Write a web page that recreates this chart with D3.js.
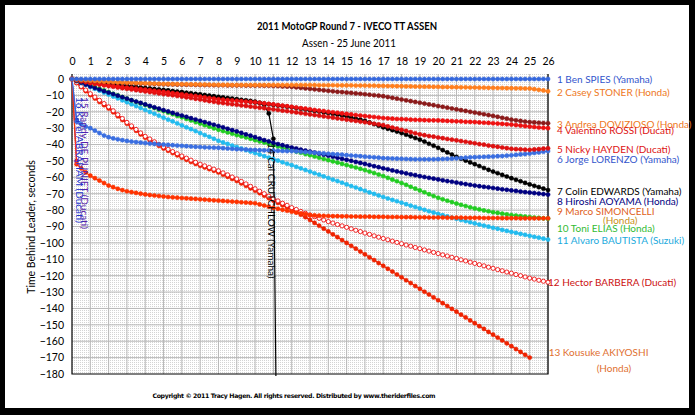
<!DOCTYPE html>
<html>
<head>
<meta charset="utf-8">
<script src="https://cdn.jsdelivr.net/npm/d3@7/dist/d3.min.js"></script>
<style>
  body { margin: 0; background: #000; }
  svg text { font-family: Lato, "Open Sans", sans-serif; }
</style>
</head>
<body>
<svg id="chart" width="695" height="415"></svg>
<script>
// lap numbers on the top axis, seconds on the left axis
const laps = [0,1,2,3,4,5,6,7,8,9,10,11,12,13,14,15,16,17,18,19,20,21,22,23,24,25,26];
const yTicks = [0,-10,-20,-30,-40,-50,-60,-70,-80,-90,-100,-110,-120,-130,-140,-150,-160,-170,-180];

// gap to the leader at every timing sector (4 per lap), one row per lap
const spies = [
  0,0,0,0, 0,0,0,0, 0,0,0,0, 0,0,0,0, 0,0,0,0, 0,0,0,0, 0,0,0,0, 0,0,0,0, 0,0,0,0,
  0,0,0,0, 0,0,0,0, 0,0,0,0, 0,0,0,0, 0,0,0,0, 0,0,0,0, 0,0,0,0, 0,0,0,0, 0,0,0,0,
  0,0,0,0, 0,0,0,0, 0,0,0,0, 0,0,0,0, 0,0,0,0, 0,0,0,0, 0,0,0,0, 0,0,0,0, 0];
const stoner = [
  0,-0.3,-0.6,-0.8, -1,-1.2,-1.4,-1.6, -1.7,-1.8,-2,-2.1, -2.2,-2.3,-2.4,-2.5,
  -2.6,-2.7,-2.8,-2.9, -3,-3,-3.1,-3.1, -3.2,-3.2,-3.3,-3.3, -3.4,-3.4,-3.5,-3.5,
  -3.6,-3.6,-3.6,-3.7, -3.7,-3.7,-3.7,-3.7, -3.7,-3.7,-3.7,-3.7, -3.7,-3.7,-3.7,-3.7,
  -3.7,-3.7,-3.7,-3.7, -3.7,-3.7,-3.8,-3.8, -3.8,-3.8,-3.9,-3.9, -3.9,-3.9,-4,-4,
  -4,-4.1,-4.1,-4.2, -4.2,-4.3,-4.3,-4.4, -4.4,-4.5,-4.5,-4.6, -4.6,-4.7,-4.7,-4.8,
  -4.8,-4.9,-4.9,-5, -5,-5.1,-5.1,-5.2, -5.2,-5.3,-5.3,-5.4, -5.4,-5.5,-5.5,-5.6,
  -5.6,-5.7,-5.7,-5.8, -5.8,-6.2,-6.6,-7, -7.5];
const dovizioso = [
  0,-0.4,-0.7,-1, -1.2,-1.4,-1.6,-1.8, -1.9,-2,-2.2,-2.3, -2.4,-2.5,-2.6,-2.7,
  -2.8,-2.9,-3,-3.1, -3.2,-3.3,-3.3,-3.4, -3.4,-3.5,-3.5,-3.6, -3.6,-3.7,-3.7,-3.8,
  -3.8,-3.8,-3.9,-3.9, -3.9,-3.9,-4,-4, -4,-4,-4.1,-4.1, -4.2,-4.3,-4.5,-4.6,
  -4.8,-5.1,-5.4,-5.7, -6,-6.3,-6.6,-6.9, -7.2,-7.5,-7.8,-8, -8.3,-8.5,-8.8,-9,
  -9.3,-9.6,-9.9,-10.2, -10.5,-11,-11.5,-12, -12.5,-13,-13.5,-14, -14.5,-15,-15.5,-16,
  -16.5,-17,-17.5,-18, -18.5,-19,-19.5,-20, -20.5,-21,-21.5,-22, -22.5,-23.1,-23.7,-24.2,
  -24.8,-25.2,-25.6,-26, -26.3,-26.5,-26.7,-26.9, -27];
const rossi = [
  0,-0.6,-1.2,-1.7, -2.2,-2.6,-3,-3.4, -3.8,-4.2,-4.5,-4.9, -5.2,-5.5,-5.9,-6.2,
  -6.5,-6.8,-7.2,-7.5, -7.8,-8.2,-8.6,-8.9, -9.3,-9.7,-10.1,-10.4, -10.8,-11.2,-11.6,-12,
  -12.4,-12.6,-12.9,-13.1, -13.3,-13.5,-13.8,-14, -14.2,-14.5,-14.9,-15.2, -15.5,-15.9,-16.3,-16.6,
  -17,-17.4,-17.8,-18.1, -18.5,-18.9,-19.3,-19.6, -20,-20.3,-20.6,-21, -21.3,-21.6,-22,-22.3,
  -22.6,-22.9,-23.2,-23.5, -23.8,-24,-24.2,-24.4, -24.5,-24.6,-24.8,-24.9, -25,-25.1,-25.2,-25.2,
  -25.3,-25.4,-25.6,-25.7, -25.8,-25.9,-26.1,-26.2, -26.3,-26.5,-26.7,-26.8, -27,-27.2,-27.4,-27.6,
  -27.8,-28.1,-28.4,-28.7, -29,-29.3,-29.6,-29.8, -30];
const hayden = [
  0,-0.7,-1.3,-1.9, -2.5,-3,-3.4,-3.9, -4.3,-4.7,-5.2,-5.6, -6,-6.4,-6.8,-7.2,
  -7.6,-8,-8.4,-8.8, -9.2,-9.6,-9.9,-10.3, -10.7,-11.2,-11.6,-12.1, -12.5,-13,-13.5,-13.9,
  -14.4,-14.7,-15.1,-15.4, -15.7,-16.1,-16.4,-16.8, -17.1,-17.5,-17.8,-18.2, -18.5,-18.9,-19.3,-19.6,
  -20,-20.4,-20.8,-21.2, -21.6,-22,-22.4,-22.8, -23.2,-23.6,-24,-24.4, -24.8,-25.2,-25.6,-26,
  -26.4,-26.8,-27.3,-27.7, -28.2,-28.9,-29.6,-30.3, -31,-31.7,-32.4,-33.1, -33.8,-34.3,-34.8,-35.2,
  -35.7,-36.1,-36.6,-37, -37.4,-37.9,-38.3,-38.8, -39.2,-39.7,-40.1,-40.6, -41,-41.4,-41.8,-42.2,
  -42.6,-42.8,-42.9,-43.1, -43.2,-43,-42.8,-42.5, -42.3];
const lorenzo = [
  0,-26,-27.5,-29, -30,-31.5,-33,-34.5, -35.5,-36.2,-36.8,-37.3, -37.8,-38.2,-38.5,-38.8,
  -39.1,-39.4,-39.6,-39.8, -40,-40.2,-40.4,-40.6, -40.8,-41,-41.2,-41.4, -41.5,-41.7,-41.8,-41.9,
  -42,-42.2,-42.4,-42.6, -42.8,-42.9,-43,-43.2, -43.3,-43.4,-43.5,-43.6, -43.7,-43.8,-43.9,-44,
  -44,-44.2,-44.4,-44.6, -44.8,-45,-45.2,-45.4, -45.6,-45.8,-46,-46.2, -46.5,-46.7,-46.9,-47.1,
  -47.4,-47.6,-47.8,-48, -48.3,-48.4,-48.5,-48.6, -48.7,-48.8,-48.9,-49, -49,-49,-49,-49,
  -48.9,-48.8,-48.7,-48.6, -48.4,-48.2,-48,-47.8, -47.7,-47.6,-47.5,-47.4, -47.3,-47.1,-47,-46.8,
  -46.6,-46.3,-46,-45.8, -45.5,-45.1,-44.8,-44.4, -44];
const edwards = [
  0,-0.5,-0.9,-1.4, -1.8,-2.2,-2.5,-2.9, -3.2,-3.5,-3.9,-4.2, -4.5,-4.8,-5.2,-5.5,
  -5.8,-6.1,-6.4,-6.7, -7,-7.3,-7.7,-8, -8.3,-8.7,-9,-9.4, -9.8,-10.2,-10.6,-11,
  -11.4,-11.8,-12.1,-12.5, -12.8,-13.2,-13.6,-13.9, -14.3,-14.7,-15,-15.4, -15.8,-16.2,-16.5,-16.9,
  -17.3,-17.7,-18.2,-18.6, -19,-19.5,-19.9,-20.4, -20.8,-21.3,-21.8,-22.3, -22.8,-23.5,-24.2,-24.8,
  -25.5,-26.5,-27.5,-28.5, -29.5,-30.4,-31.2,-32.1, -33,-34,-35,-36, -37,-38.2,-39.5,-40.7,
  -42,-43.4,-44.8,-46.1, -47.5,-48.6,-49.8,-50.9, -52,-53.1,-54.3,-55.4, -56.5,-57.5,-58.5,-59.5,
  -60.5,-61.5,-62.4,-63.4, -64.3,-65.2,-66,-66.9, -67.8];
const aoyama = [
  0,-1.1,-2.3,-3.4, -4.5,-5.5,-6.4,-7.4, -8.3,-9.2,-10.2,-11.1, -12,-12.9,-13.8,-14.6,
  -15.5,-16.4,-17.3,-18.1, -19,-19.8,-20.7,-21.5, -22.3,-23.1,-23.9,-24.7, -25.5,-26.3,-27.1,-27.9,
  -28.7,-29.5,-30.4,-31.2, -32,-32.9,-33.8,-34.6, -35.5,-36.4,-37.3,-38.1, -39,-39.7,-40.4,-41.1,
  -41.8,-42.4,-43.1,-43.7, -44.3,-44.9,-45.6,-46.2, -46.8,-47.4,-48.1,-48.7, -49.3,-49.9,-50.6,-51.2,
  -51.8,-52.5,-53.2,-53.8, -54.5,-55.1,-55.8,-56.4, -57,-57.6,-58.2,-58.7, -59.3,-59.8,-60.3,-60.8,
  -61.3,-61.8,-62.3,-62.7, -63.2,-63.7,-64.1,-64.6, -65,-65.4,-65.8,-66.1, -66.5,-66.9,-67.3,-67.6,
  -68,-68.3,-68.7,-69, -69.3,-69.6,-69.9,-70.2, -70.5];
const simoncelli = [
  0,-52,-54.5,-57, -59,-60.5,-62,-63.5, -65,-66,-67,-67.8, -68.5,-69,-69.5,-70,
  -70.4,-70.8,-71.1,-71.4, -71.7,-72,-72.2,-72.4, -72.6,-72.8,-73,-73.2, -73.4,-73.6,-73.8,-74,
  -74.2,-74.4,-74.6,-74.8, -75,-75.2,-75.4,-75.6, -75.8,-76.5,-77.2,-77.9, -78.6,-79.2,-79.8,-80.4,
  -81,-81.5,-82,-82.5, -83,-83.2,-83.4,-83.5, -83.6,-83.7,-83.7,-83.8, -83.8,-83.9,-83.9,-84,
  -84,-84,-84.1,-84.1, -84.1,-84.2,-84.2,-84.2, -84.3,-84.3,-84.3,-84.4, -84.4,-84.4,-84.5,-84.5,
  -84.5,-84.5,-84.6,-84.6, -84.6,-84.6,-84.7,-84.7, -84.7,-84.7,-84.8,-84.8, -84.8,-84.8,-84.9,-84.9,
  -84.9,-84.9,-85,-85, -85,-85,-85,-85, -85];
const elias = [
  0,-1,-2,-3, -4,-5,-6,-7, -8,-9,-10,-11, -12,-13,-13.9,-14.9,
  -15.8,-16.8,-17.7,-18.7, -19.6,-20.6,-21.5,-22.5, -23.4,-24.4,-25.3,-26.3, -27.2,-28.2,-29.1,-30.1,
  -31,-31.8,-32.6,-33.4, -34.2,-35,-35.7,-36.5, -37.3,-38.1,-38.8,-39.6, -40.4,-41.2,-41.9,-42.7,
  -43.5,-44.3,-45,-45.8, -46.5,-47.3,-48,-48.8, -49.5,-50.3,-51,-51.8, -52.5,-53.3,-54,-54.8,
  -55.6,-56.5,-57.4,-58.3, -59.2,-60.3,-61.4,-62.4, -63.5,-64.6,-65.8,-66.9, -68,-69.1,-70.3,-71.4,
  -72.5,-73.4,-74.3,-75.1, -76,-76.8,-77.5,-78.3, -79,-79.6,-80.2,-80.7, -81.3,-81.7,-82.2,-82.6,
  -83,-83.3,-83.6,-83.9, -84.2,-84.5,-84.7,-85, -85.2];
const bautista = [
  0,-1.2,-2.4,-3.6, -4.8,-6,-7.1,-8.3, -9.5,-10.7,-11.8,-13, -14.2,-15.4,-16.5,-17.7,
  -18.9,-20.1,-21.2,-22.4, -23.6,-24.8,-25.9,-27.1, -28.3,-29.5,-30.6,-31.8, -33,-34.2,-35.3,-36.5,
  -37.7,-38.7,-39.6,-40.6, -41.5,-42.4,-43.4,-44.3, -45.2,-46.1,-47.1,-48, -48.9,-49.8,-50.8,-51.7,
  -52.6,-53.6,-54.5,-55.5, -56.5,-57.5,-58.4,-59.4, -60.4,-61.4,-62.3,-63.3, -64.3,-65.3,-66.2,-67.2,
  -68.2,-69.2,-70.1,-71.1, -72,-72.9,-73.8,-74.6, -75.5,-76.4,-77.3,-78.1, -79,-79.8,-80.7,-81.5,
  -82.3,-83.1,-83.8,-84.6, -85.3,-86,-86.7,-87.4, -88.1,-88.8,-89.5,-90.1, -90.8,-91.4,-92.1,-92.7,
  -93.3,-93.9,-94.5,-95.1, -95.7,-96.3,-96.8,-97.4, -98];
const barbera = [
  0,-2.2,-4.5,-6.7, -9,-11,-13,-15, -17,-19.4,-21.8,-24.1, -26.5,-28.6,-30.8,-32.9,
  -35,-36.6,-38.3,-39.9, -41.5,-42.9,-44.3,-45.6, -47,-48.3,-49.5,-50.8, -52,-53,-54,-55,
  -56,-57.3,-58.5,-59.8, -61,-62.5,-64,-65.5, -67,-68.5,-70,-71.5, -73,-74.4,-75.8,-77.1,
  -78.5,-79.6,-80.8,-81.9, -83,-84,-85,-86, -87,-87.9,-88.8,-89.6, -90.5,-91.4,-92.3,-93.1,
  -94,-94.8,-95.7,-96.5, -97.3,-98.1,-98.9,-99.7, -100.5,-101.3,-102,-102.8, -103.5,-104.3,-105,-105.8,
  -106.5,-107.3,-108,-108.8, -109.5,-110.3,-111,-111.8, -112.5,-113.3,-114,-114.8, -115.5,-116.3,-117,-117.8,
  -118.5,-119.3,-120,-120.8, -121.5,-122.1,-122.8,-123.4, -124];
// lapped: last timing is at lap 25
const akiyoshi = [
  0,-2.5,-5,-7.4, -9.8,-11.9,-14,-16, -18,-20.3,-22.7,-25, -27.3,-29.5,-31.6,-33.8,
  -35.8,-37.5,-39.2,-40.8, -42.4,-43.8,-45.2,-46.6, -48,-49.3,-50.6,-51.8, -53,-54,-55,-56,
  -57,-58.4,-59.7,-61, -62.2,-63.7,-65.2,-66.7, -68.2,-69.7,-71.2,-72.7, -74.2,-75.6,-77,-78.4,
  -79.8,-81.3,-82.8,-84.3, -86,-87.8,-89.5,-91.3, -93,-94.8,-96.5,-98.3, -100,-101.8,-103.5,-105.3,
  -107,-108.8,-110.5,-112.3, -114,-115.8,-117.5,-119.3, -121,-122.8,-124.5,-126.3, -128,-129.8,-131.5,-133.3,
  -135,-136.8,-138.5,-140.3, -142,-143.8,-145.5,-147.3, -149,-150.8,-152.5,-154.3, -156,-157.8,-159.5,-161.3,
  -163,-164.8,-166.5,-168.3, -170];
// retirements
const crutchlow = [
  0,-0.4,-0.8,-1.2, -1.6,-2,-2.3,-2.7, -3,-3.3,-3.7,-4, -4.3,-4.6,-4.9,-5.2,
  -5.5,-5.8,-6.1,-6.4, -6.7,-7,-7.4,-7.7, -8,-8.4,-8.7,-9.1, -9.4,-9.8,-10.1,-10.5,
  -10.9,-11.2,-11.6,-11.9, -12.3,-12.7,-13,-13.4, -13.8,-14.6,-15.8,-21, -36.5,-300];
const depuniet = [0,-50];
const abraham = [0,-25];

const sectorsPerLap = 4;

const riders = [
  { label: "1 Ben SPIES (Yamaha)", values: spies, color: "#3366dd", text: "#3355cc", dy: 0 },
  { label: "2 Casey STONER (Honda)", values: stoner, color: "#ff7f1e", text: "#ee7722", dy: 1.5 },
  { label: "3 Andrea DOVIZIOSO (Honda)", values: dovizioso, color: "#8b1a1a", text: "#ee7722", dy: 1 },
  { label: "4 Valentino ROSSI (Ducati)", values: rossi, color: "#ee1111", text: "#dd1111", dy: 2 },
  { label: "5 Nicky HAYDEN (Ducati)", values: hayden, color: "#dd1111", text: "#dd1111", dy: 1 },
  { label: "6 Jorge LORENZO (Yamaha)", values: lorenzo, color: "#3a6ee0", text: "#3355cc", dy: 8 },
  { label: "7 Colin EDWARDS (Yamaha)", values: edwards, color: "#000000", text: "#000000", dy: 1 },
  { label: "8 Hiroshi AOYAMA (Honda)", values: aoyama, color: "#000080", text: "#000080", dy: 7 },
  { label: "9 Marco SIMONCELLI", values: simoncelli, color: "#ff3300", text: "#e06020", dy: -7, second: "(Honda)", secondColor: "#c89020", secondDx: 46, secondDy: 9 },
  { label: "10 Toni ELIAS (Honda)", values: elias, color: "#22cc22", text: "#33bb33", dy: 10 },
  { label: "11 Alvaro BAUTISTA (Suzuki)", values: bautista, color: "#22bbee", text: "#22aadd", dy: 1 },
  { label: "12 Hector BARBERA (Ducati)", values: barbera, color: "#ee1111", text: "#cc1111", dy: 0, hollow: true, dx: -9 },
  { label: "13 Kousuke AKIYOSHI", values: akiyoshi, color: "#ee2200", text: "#e07030", dy: -5, dx: 10, second: "(Honda)", secondColor: "#e07030", secondDx: 48, secondDy: 16 }
];
const retired = [
  { label: "14 Cal CRUTCHLOW (Yamaha)", values: crutchlow, color: "#000000", text: "#000000", lx: 271, ly: 143 },
  { label: "15 Randy DE PUNIET (Ducati)", values: depuniet, color: "#6a1b9a", text: "#5522aa", lx: 84, ly: 97 },
  { label: "16 Karel ABRAHAM (Ducati)", values: abraham, color: "#3344cc", text: "#2233cc", lx: 79, ly: 97 }
];

const plot = { left: 72, right: 548, top: 79, bottom: 374 };

const svg = d3.select("#chart");
svg.append("rect").attr("x", 5).attr("y", 5).attr("width", 684).attr("height", 403).attr("fill", "#fff");

const x = d3.scaleLinear().domain([0, 26]).range([plot.left, plot.right]);
const y = d3.scaleLinear().domain([-180, 0]).range([plot.bottom, plot.top]);

// dotted fill of the plot area
const defs = svg.append("defs");
const pat = defs.append("pattern").attr("id", "dots").attr("patternUnits", "userSpaceOnUse")
  .attr("width", 2).attr("height", 2);
pat.append("rect").attr("width", 1).attr("height", 1).attr("fill", "#d4d4d4");
defs.append("clipPath").attr("id", "clip").append("rect")
  .attr("x", plot.left - 4).attr("y", plot.top - 6)
  .attr("width", plot.right - plot.left + 8).attr("height", plot.bottom - plot.top + 8);

svg.append("rect").attr("x", plot.left).attr("y", plot.top - 5)
  .attr("width", plot.right - plot.left).attr("height", plot.bottom - plot.top + 5)
  .attr("fill", "url(#dots)");

// gridlines
svg.append("g").selectAll("line").data(laps.slice(1)).join("line")
  .attr("x1", d => x(d)).attr("x2", d => x(d))
  .attr("y1", plot.top - 5).attr("y2", plot.bottom)
  .attr("stroke", "#b8b8b8").attr("stroke-width", 1);
svg.append("g").selectAll("line").data(yTicks.slice(0, -1)).join("line")
  .attr("x1", plot.left).attr("x2", plot.right)
  .attr("y1", d => y(d)).attr("y2", d => y(d))
  .attr("stroke", "#b8b8b8").attr("stroke-width", 1);

// frame
svg.append("path")
  .attr("d", `M${plot.left},${plot.top - 5}V${plot.bottom}H${plot.right}V${plot.top - 5}`)
  .attr("fill", "none").attr("stroke", "#000").attr("stroke-width", 1.2);

// axes labels
const topAxis = d3.axisTop(x).tickValues(laps).tickSize(0).tickPadding(0);
svg.append("g").attr("transform", `translate(0,${plot.top - 14})`).call(topAxis)
  .call(g => g.select(".domain").remove())
  .selectAll("text").attr("font-size", 10.5).attr("fill", "#000")
  .style("font-family", "Lato, sans-serif");

const leftAxis = d3.axisLeft(y).tickValues(yTicks).tickSize(0).tickPadding(8);
svg.append("g").attr("transform", `translate(${plot.left},0)`).call(leftAxis)
  .call(g => g.select(".domain").remove())
  .selectAll("text").attr("font-size", 10.5).attr("fill", "#000")
  .style("font-family", "Lato, sans-serif");

svg.append("text").attr("transform", "translate(35,227) rotate(-90)")
  .attr("text-anchor", "middle").attr("font-size", 10.5).text("Time Behind Leader, seconds");

// titles
svg.append("text").attr("x", 347).attr("y", 30).attr("text-anchor", "middle")
  .attr("font-size", 11).attr("font-weight", "bold")
  .attr("textLength", 180).attr("lengthAdjust", "spacingAndGlyphs")
  .text("2011 MotoGP Round 7 - IVECO TT ASSEN");
svg.append("text").attr("x", 349).attr("y", 47).attr("text-anchor", "middle")
  .attr("font-size", 10.5).attr("textLength", 94).attr("lengthAdjust", "spacingAndGlyphs")
  .text("Assen - 25 June 2011");

svg.append("text").attr("x", 294).attr("y", 398).attr("text-anchor", "middle")
  .attr("font-size", 6.2).attr("font-weight", "bold").attr("textLength", 283)
  .style("font-family", "'DejaVu Sans', sans-serif")
  .text("Copyright \u00a9 2011 Tracy Hagen. All rights reserved. Distributed by www.theriderfiles.com");

// series
const lapOf = i => i / sectorsPerLap;
const line = d3.line().x((d, i) => x(lapOf(i))).y(d => y(d));
const series = svg.append("g").attr("clip-path", "url(#clip)");

function drawRider(r) {
  series.append("path").datum(r.values).attr("d", line)
    .attr("fill", "none").attr("stroke", r.color).attr("stroke-width", 1.2);
  series.append("g").selectAll("circle").data(r.values).join("circle")
    .attr("cx", (d, i) => x(lapOf(i))).attr("cy", d => y(d)).attr("r", 2.1)
    .attr("fill", r.hollow ? "#fff" : r.color)
    .attr("stroke", r.color).attr("stroke-width", r.hollow ? 0.9 : 0.5);
}

retired.forEach(drawRider);
riders.slice().reverse().forEach(drawRider);

// rider labels at the end of the lines
riders.forEach(r => {
  const last = r.values.length - 1;
  const lx = x(lapOf(last)) + 9 + (r.dx || 0);
  const ly = y(r.values[last]) + r.dy;
  svg.append("text").attr("x", lx).attr("y", ly).attr("dy", "0.35em")
    .attr("font-size", 10).attr("fill", r.text).text(r.label);
  if (r.second) {
    svg.append("text").attr("x", lx + r.secondDx).attr("y", ly + r.secondDy).attr("dy", "0.35em")
      .attr("font-size", 10).attr("fill", r.secondColor).text(r.second);
  }
});

retired.forEach(r => {
  svg.append("text").attr("transform", `translate(${r.lx},${r.ly}) rotate(90)`)
    .attr("dy", "0.35em").attr("font-size", 10).attr("fill", r.text).text(r.label);
});
</script>
</body>
</html>
